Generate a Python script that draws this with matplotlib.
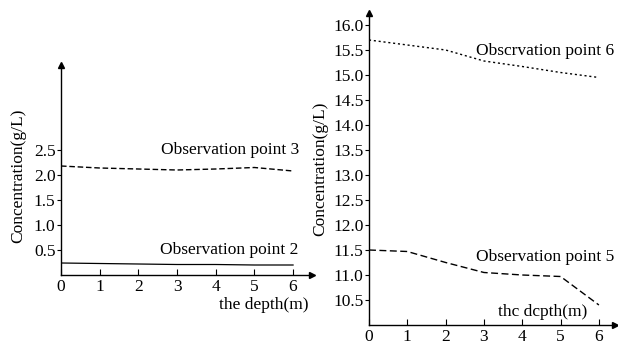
import matplotlib.pyplot as plt

plt.rcParams['font.family'] = ['Liberation Serif', 'DejaVu Serif']

depth = [0, 1, 2, 3, 4, 5, 6]
obs2 = [0.24, 0.23, 0.22, 0.21, 0.21, 0.2, 0.2]
obs3 = [2.18, 2.14, 2.12, 2.1, 2.12, 2.15, 2.08]
obs5 = [11.5, 11.47, 11.25, 11.05, 11.0, 10.97, 10.4]
obs6 = [15.7, 15.6, 15.5, 15.28, 15.17, 15.05, 14.95]

left_yticks = [0.5, 1.0, 1.5, 2.0, 2.5]
right_yticks = [10.5, 11.0, 11.5, 12.0, 12.5, 13.0, 13.5, 14.0, 14.5, 15.0, 15.5, 16.0]

W, H = 618, 344
fig = plt.figure(figsize=(W / 100, H / 100), dpi=100)


def make_axes(x0, x1, y0, y1):
    # pixel box -> figure fraction
    return fig.add_axes([x0 / W, 1 - y1 / H, (x1 - x0) / W, (y1 - y0) / H])


def style(ax, xmax, ymin, ymax):
    ax.set_xlim(0, xmax)
    ax.set_ylim(ymin, ymax)
    for s in ['top', 'right']:
        ax.spines[s].set_visible(False)
    for s in ['left', 'bottom']:
        ax.spines[s].set_linewidth(1.0)
    ax.plot(1, ymin, '>k', ms=5, transform=ax.get_yaxis_transform(), clip_on=False)
    ax.plot(0, 1, '^k', ms=5, transform=ax.get_xaxis_transform(), clip_on=False)
    ax.tick_params(axis='x', direction='in', length=4, labelsize=12.5, pad=3)
    ax.tick_params(axis='y', direction='out', length=3, labelsize=12.5, pad=1)


# left panel
ax1 = make_axes(61, 312, 65, 275)
style(ax1, 6.49, 0, 4.2)
ax1.plot(depth, obs2, color='k', lw=0.9)
ax1.plot(depth, obs3, color='k', lw=1.0, ls=(0, (4, 2)))
ax1.set_xticks(depth)
ax1.set_yticks(left_yticks)
ax1.set_yticklabels([f'{v:.1f}' for v in left_yticks])
ax1.set_ylabel('Concentration(g/L)', fontsize=12.5)
ax1.yaxis.set_label_coords(-0.14, 0.47)
ax1.text(6.15, 2.5, 'Observation point 3', fontsize=12.5, ha='right', va='center')
ax1.text(6.15, 0.5, 'Observation point 2', fontsize=12.5, ha='right', va='center')
ax1.text(6.4, -0.6, 'the depth(m)', fontsize=12.5, ha='right', va='center')

# right panel
ax2 = make_axes(369, 615, 13, 325)
style(ax2, 6.42, 10.0, 16.24)
ax2.plot(depth, obs6, color='k', lw=1.0, ls=(0, (1.5, 2)))
ax2.plot(depth, obs5, color='k', lw=1.0, ls=(0, (5, 2.5)))
ax2.set_xticks(depth)
ax2.set_yticks(right_yticks)
ax2.set_yticklabels([f'{v:.1f}' for v in right_yticks])
ax2.set_ylabel('Concentration(g/L)', fontsize=12.5)
ax2.yaxis.set_label_coords(-0.165, 0.5)
ax2.text(6.4, 15.48, 'Obscrvation point 6', fontsize=12.5, ha='right', va='center')
ax2.text(6.4, 11.36, 'Observation point 5', fontsize=12.5, ha='right', va='center')
ax2.text(5.7, 10.26, 'thc dcpth(m)', fontsize=12.5, ha='right', va='center')

fig.savefig('out.png', dpi=100)
